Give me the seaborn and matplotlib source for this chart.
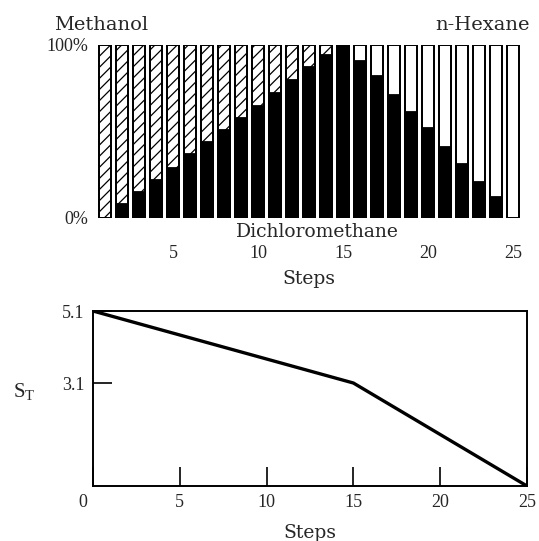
import numpy as np
import pandas as pd
import matplotlib
matplotlib.use("Agg")
import matplotlib.pyplot as plt
import matplotlib.transforms as mtransforms
import seaborn as sns

# ---- data ----
steps = list(range(1, 26))
dcm_pct = [0, 8, 15, 22, 29, 37, 44, 51, 58, 65, 72, 80, 87, 94, 100,
           91, 82, 71, 61, 52, 41, 31, 21, 12, 0]
upper_solvent = ["Methanol"] * 14 + ["None"] + ["n-Hexane"] * 10
x_ticks = [5, 10, 15, 20, 25]

st_steps = [0, 15, 25]
st_values = [5.1, 3.1, 0.24]
st_xticks = [0, 5, 10, 15, 20, 25]
st_yticks = [3.1, 5.1]

sns.set_theme(style="white")
plt.rcParams["font.family"] = ["Liberation Serif", "DejaVu Serif"]
plt.rcParams["hatch.linewidth"] = 0.9
WORD = ["DejaVu Serif"]

fig = plt.figure(figsize=(5.39, 5.41), dpi=100)

# ---------- top: solvent composition bars ----------
ax1 = fig.add_axes([88 / 539, 1 - 218 / 541, 442 / 539, 173 / 541])
df = pd.DataFrame({"step": steps, "dcm": dcm_pct, "upper": upper_solvent})
df["total"] = 100

meth = df[df["upper"] == "Methanol"]
hexa = df[df["upper"] != "Methanol"]
sns.barplot(data=meth, x="step", y="total", native_scale=True, width=0.68,
            color="white", edgecolor="black", linewidth=1.3, hatch="///",
            ax=ax1)
sns.barplot(data=hexa, x="step", y="total", native_scale=True, width=0.68,
            color="white", edgecolor="black", linewidth=1.3, ax=ax1)
sns.barplot(data=df[df["dcm"] > 0], x="step", y="dcm", native_scale=True,
            width=0.68, color="black", edgecolor="black", linewidth=1.3,
            ax=ax1)
sns.barplot(data=df, x="step", y="total", native_scale=True, width=0.68,
            fill=False, edgecolor="black", linewidth=1.3, ax=ax1)

ax1.set_xlim(0, 26)
ax1.set_ylim(0, 100)
for s in ax1.spines.values():
    s.set_visible(False)
ax1.set_yticks([0, 100])
ax1.set_yticklabels(["0%", "100%"], fontsize=13)
ax1.set_xticks(x_ticks)
ax1.set_xticklabels([str(t) for t in x_ticks], fontsize=13)
ax1.tick_params(axis="x", length=0, pad=19.5)
ax1.tick_params(axis="y", length=0, pad=0)
ax1.set_xlabel("Steps", fontsize=13.5, labelpad=6, family=WORD)
ax1.set_ylabel("")
ax1.text(13.5, -8.3, "Dichloromethane", ha="center", va="center",
         fontsize=13.5, family=WORD)
fig.text(101 / 539, 1 - 25 / 541, "Methanol", ha="center", va="center",
         fontsize=14, family=WORD)
fig.text(483 / 539, 1 - 25 / 541, "n-Hexane", ha="center", va="center",
         fontsize=14, family=WORD)

# ---------- bottom: S_T line ----------
ax2 = fig.add_axes([93 / 539, 1 - 486 / 541, 434 / 539, 175 / 541])
ldf = pd.DataFrame({"step": st_steps, "st": st_values})
sns.lineplot(data=ldf, x="step", y="st", color="black", linewidth=2.4, ax=ax2)
ax2.set_xlim(0, 25)
ax2.set_ylim(0.24, 5.1)
for s in ax2.spines.values():
    s.set_visible(True)
    s.set_color("black")
    s.set_linewidth(1.4)
ax2.set_xticks(st_xticks)
ax2.set_xticklabels([str(t) for t in st_xticks], fontsize=13)
ax2.set_yticks(st_yticks)
ax2.set_yticklabels([str(t) for t in st_yticks], fontsize=13)
ax2.tick_params(axis="both", direction="in", length=14, width=1.2,
                color="black", bottom=True, left=True, pad=6)
ax2.set_xlabel("Steps", fontsize=13.5, labelpad=9, family=WORD)
ax2.set_ylabel("")
lbl0 = ax2.get_xticklabels()[0]
lbl0.set_transform(lbl0.get_transform() +
                   mtransforms.ScaledTranslation(-0.10, 0, fig.dpi_scale_trans))
fig.text(24 / 539, 1 - 392 / 541, "S$_\\mathregular{T}$", ha="center",
         va="center", fontsize=15)

fig.savefig("out.png", dpi=100)
